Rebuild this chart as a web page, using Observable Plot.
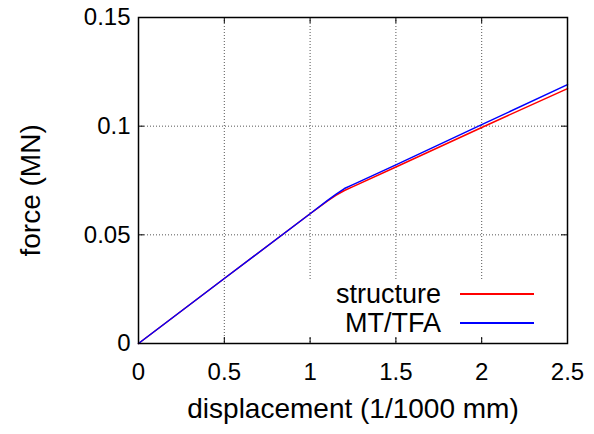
<!DOCTYPE html>
<html>
<head>
<meta charset="utf-8">
<script src="https://cdn.jsdelivr.net/npm/d3@7"></script>
<script src="https://cdn.jsdelivr.net/npm/@observablehq/plot@0.6"></script>
<style>
  html, body { margin: 0; padding: 0; background: white; }
  #wrap { position: relative; width: 594px; height: 434px; background: white; overflow: hidden; }
  #wrap svg.plot-root { position: absolute; left: 0; top: 0; }
  #legend { position: absolute; background: white; font-family: "Liberation Sans", Arial, sans-serif; font-size: 27px; color: black; }
  #legend .lab { position: absolute; white-space: nowrap; text-align: right; }
  #legend .swatch { position: absolute; }
</style>
</head>
<body>
<div id="wrap"></div>
<script>
// ---- data ----
const displacement   = [0, 0.5, 1.0, 1.1, 1.15, 1.2, 1.25, 1.5, 2.0, 2.5];
const structureForce = [0, 0.0299, 0.0597, 0.0655, 0.0682, 0.0704, 0.0722, 0.0812, 0.0994, 0.1173];
const mttfaForce     = [0, 0.0299, 0.0597, 0.0657, 0.0686, 0.0713, 0.0731, 0.0822, 0.1007, 0.1191];
const seriesNames  = ["structure", "MT/TFA"];
const seriesColors = ["#ff0000", "#0000ff"];
const xTicks = [0, 0.5, 1, 1.5, 2, 2.5];
const yTicks = [0, 0.05, 0.1, 0.15];
const xLabel = "displacement (1/1000 mm)";
const yLabel = "force (MN)";

const seriesValues = [structureForce, mttfaForce];
const rows = seriesNames.flatMap((s, i) =>
  displacement.map((x, j) => ({series: s, x, y: seriesValues[i][j]})));

const W = 594, H = 434;
const mL = 138, mR = 27, mT = 17, mB = 91;
const pw = W - mL - mR, ph = H - mT - mB;
const FS = 24;   // tick labels
const LS = 28;   // axis titles
const gridStyle = {stroke: "#555", strokeOpacity: 1, strokeDasharray: "1,2", strokeWidth: 1};
const fmt = d => String(d);

const chart = Plot.plot({
  width: W, height: H,
  marginLeft: mL, marginRight: mR, marginTop: mT, marginBottom: mB,
  x: {domain: [0, 2.5]},
  y: {domain: [0, 0.15]},
  color: {domain: seriesNames, range: seriesColors},
  style: {fontFamily: "'Liberation Sans', Arial, sans-serif", fontSize: FS + "px", background: "transparent", color: "black"},
  marks: [
    Plot.gridX(xTicks.slice(1, -1), gridStyle),
    Plot.gridY(yTicks.slice(1, -1), gridStyle),
    Plot.line(rows, {x: "x", y: "y", z: "series", stroke: "series", strokeWidth: 1.5}),
    Plot.tickX(xTicks, {x: d => d, insetTop: ph - 6, stroke: "black"}),
    Plot.tickX(xTicks, {x: d => d, insetBottom: ph - 6, stroke: "black"}),
    Plot.tickY(yTicks, {y: d => d, insetRight: pw - 6, stroke: "black"}),
    Plot.tickY(yTicks, {y: d => d, insetLeft: pw - 6, stroke: "black"}),
    Plot.frame({stroke: "black", strokeWidth: 1.5}),
    Plot.axisX(xTicks, {anchor: "bottom", tickSize: 0, tickPadding: 19, label: null, fontSize: FS, tickFormat: fmt}),
    Plot.axisY(yTicks, {anchor: "left", tickSize: 0, tickPadding: 8, label: null, fontSize: FS, tickFormat: fmt}),
    Plot.text([xLabel], {text: d => d, frameAnchor: "bottom", dy: 74, fontSize: LS}),
    Plot.text([yLabel], {text: d => d, frameAnchor: "left", dx: -107, dy: 76, rotate: -90, fontSize: LS})
  ]
});
chart.classList.add("plot-root");
const wrap = document.getElementById("wrap");
wrap.appendChild(chart);

// ---- legend (opaque key box, like gnuplot) ----
const lg = document.createElement("div");
lg.id = "legend";
const boxL = 300, boxT = 279, boxR = W - mR - 1, boxB = H - mB - 7;
Object.assign(lg.style, {left: boxL + "px", top: boxT + "px", width: (boxR - boxL) + "px", height: (boxB - boxT) + "px"});
const rowY = [294, 323];
seriesNames.forEach((name, i) => {
  const t = document.createElement("div");
  t.className = "lab";
  t.textContent = name;
  Object.assign(t.style, {right: (boxR - 441) + "px", top: (rowY[i] - boxT - 16) + "px", height: "32px", lineHeight: "32px"});
  lg.appendChild(t);
  const s = document.createElement("div");
  s.className = "swatch";
  Object.assign(s.style, {left: (460 - boxL) + "px", width: "74px", top: (rowY[i] - boxT - 0.75) + "px", height: "1.5px", background: seriesColors[i]});
  lg.appendChild(s);
});
wrap.appendChild(lg);
</script>
</body>
</html>
